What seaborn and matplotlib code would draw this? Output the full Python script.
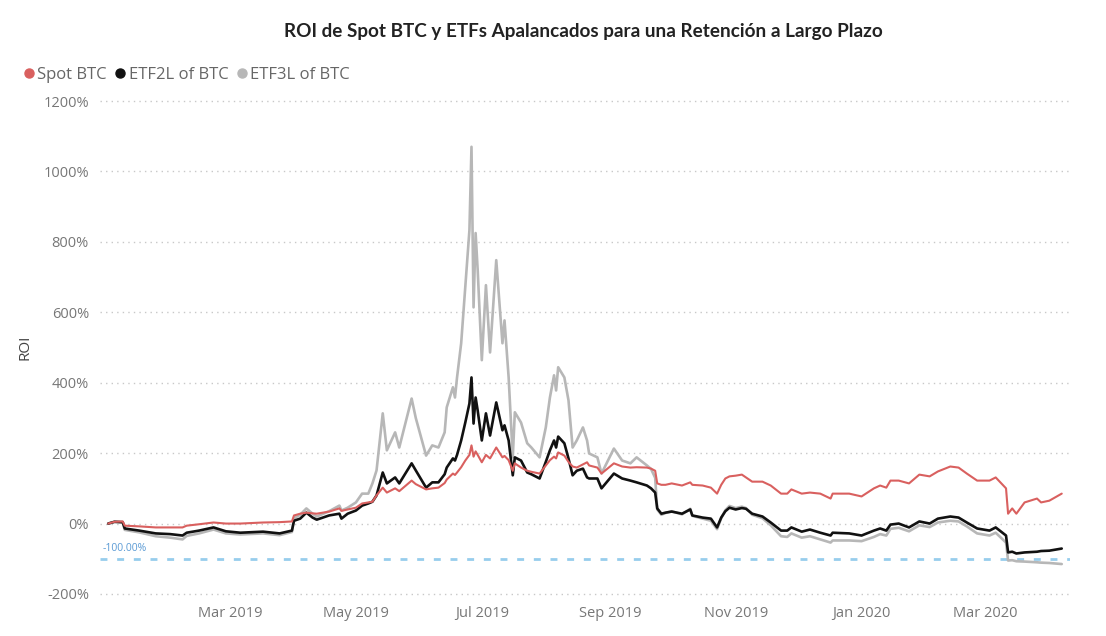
import matplotlib
matplotlib.use('agg')
import matplotlib.pyplot as plt
import matplotlib.dates as mdates
from matplotlib.lines import Line2D
from matplotlib.ticker import FuncFormatter
import pandas as pd
import seaborn as sns


dates = ["2019-01-01", "2019-01-04", "2019-01-08", "2019-01-09", "2019-01-16", "2019-01-24",
         "2019-01-31", "2019-02-06", "2019-02-08", "2019-02-14", "2019-02-21", "2019-02-27",
         "2019-03-06", "2019-03-17", "2019-03-25", "2019-03-31", "2019-04-01", "2019-04-04",
         "2019-04-07", "2019-04-10", "2019-04-12", "2019-04-18", "2019-04-23", "2019-04-24",
         "2019-04-27", "2019-05-01", "2019-05-04", "2019-05-07", "2019-05-09", "2019-05-11",
         "2019-05-14", "2019-05-16", "2019-05-20", "2019-05-22", "2019-05-28",
         "2019-05-30", "2019-06-04", "2019-06-07", "2019-06-10", "2019-06-13", "2019-06-14",
         "2019-06-17", "2019-06-18", "2019-06-19", "2019-06-21", "2019-06-23", "2019-06-25",
         "2019-06-26", "2019-06-27", "2019-06-28", "2019-06-29", "2019-07-01", "2019-07-03",
         "2019-07-05", "2019-07-08", "2019-07-11", "2019-07-12", "2019-07-14", "2019-07-16",
         "2019-07-17", "2019-07-20", "2019-07-23", "2019-07-25", "2019-07-29", "2019-08-01",
         "2019-08-03", "2019-08-05", "2019-08-06", "2019-08-07", "2019-08-10", "2019-08-12",
         "2019-08-14", "2019-08-16", "2019-08-19", "2019-08-21", "2019-08-22", "2019-08-26",
         "2019-08-28", "2019-09-03", "2019-09-07", "2019-09-11", "2019-09-14", "2019-09-19",
         "2019-09-21", "2019-09-23", "2019-09-24", "2019-09-26", "2019-09-28", "2019-10-01",
         "2019-10-06", "2019-10-10", "2019-10-11", "2019-10-16", "2019-10-20", "2019-10-23",
         "2019-10-25", "2019-10-27", "2019-10-29", "2019-11-01", "2019-11-04", "2019-11-06",
         "2019-11-09", "2019-11-14", "2019-11-18", "2019-11-23", "2019-11-26", "2019-11-28",
         "2019-12-03", "2019-12-07", "2019-12-12", "2019-12-17", "2019-12-18", "2019-12-26",
         "2020-01-01", "2020-01-07", "2020-01-10", "2020-01-13", "2020-01-15", "2020-01-19",
         "2020-01-24", "2020-01-29", "2020-02-03", "2020-02-07", "2020-02-13", "2020-02-17",
         "2020-02-21", "2020-02-26", "2020-03-03", "2020-03-06", "2020-03-11", "2020-03-12",
         "2020-03-14", "2020-03-16", "2020-03-20", "2020-03-26", "2020-03-28", "2020-04-01",
         "2020-04-07"]

spot_btc = [0, 5, 6, -6, -8, -11,
            -11, -11, -6, -2, 3, 0,
            0, 3, 4, 6, 23, 28,
            31, 29, 28, 34, 43, 36,
            40, 45, 57, 60, 62, 80,
            102, 88, 100, 92, 122,
            112, 97, 100, 102, 115, 125,
            142, 138, 145, 160, 179, 195,
            222, 190, 205, 195, 174, 195,
            185, 216, 188, 192, 180, 150,
            171, 159, 150, 147, 142, 165,
            180, 190, 185, 202, 193, 175,
            162, 159, 168, 174, 165, 159,
            142, 171, 162, 159, 160, 159,
            156, 150, 114, 110, 110, 114,
            108, 117, 110, 108, 102, 85,
            110, 128, 134, 136, 139, 131,
            119, 119, 108, 85, 85, 97,
            85, 88, 85, 71, 85, 85,
            77, 100, 108, 102, 122, 122,
            114, 139, 134, 148, 162, 159,
            142, 122, 122, 131, 100, 28,
            43, 28, 60, 71, 60, 65,
            85]

etf2l_btc = [0, 5, 4, -14, -20, -28,
             -30, -34, -26, -20, -11, -22,
             -26, -23, -28, -20, 8, 14,
             31, 17, 11, 23, 28, 14,
             28, 37, 51, 57, 62, 80,
             145, 114, 131, 114, 171,
             151, 102, 117, 117, 140, 159,
             185, 179, 195, 236, 287, 341,
             415, 284, 358, 321, 236, 313,
             250, 344, 265, 279, 236, 137,
             188, 179, 145, 140, 128, 175,
             208, 236, 216, 247, 228, 185,
             137, 150, 156, 131, 128, 128,
             100, 142, 128, 122, 117, 108,
             100, 88, 43, 28, 31, 34,
             28, 40, 23, 17, 14, -11,
             17, 35, 45, 40, 44, 42,
             28, 20, 3, -20, -20, -11,
             -23, -17, -26, -34, -26, -28,
             -34, -20, -14, -20, -3, 0,
             -11, 6, 0, 14, 20, 17,
             3, -14, -20, -11, -34, -82,
             -80, -85, -82, -80, -78, -77,
             -71]

etf3l_btc = [0, 5, 3, -18, -25, -36,
             -40, -45, -35, -28, -17, -28,
             -31, -28, -33, -24, 15, 25,
             43, 28, 20, 35, 51, 37,
             45, 60, 85, 85, 114, 151,
             313, 208, 259, 216, 355,
             300, 193, 222, 216, 259, 330,
             387, 358, 415, 512, 671, 833,
             1070, 614, 825, 720, 464, 677,
             486, 748, 512, 577, 415, 188,
             316, 287, 228, 216, 188, 273,
             358, 421, 378, 444, 415, 350,
             216, 236, 273, 236, 199, 188,
             142, 213, 179, 171, 188, 165,
             155, 130, 40, 25, 30, 35,
             26, 42, 22, 14, 8, -16,
             15, 38, 50, 44, 48, 44,
             25, 15, -5, -36, -38, -28,
             -40, -36, -45, -54, -48, -48,
             -50, -38, -30, -34, -15, -12,
             -22, -5, -10, 3, 8, 6,
             -8, -28, -34, -26, -54, -105,
             -104, -107, -108, -110, -111, -112,
             -115]

series_names = ["Spot BTC", "ETF2L of BTC", "ETF3L of BTC"]
colors = {"Spot BTC": "#D9605F", "ETF2L of BTC": "#111111", "ETF3L of BTC": "#B7B7B7"}
widths = {"Spot BTC": 1.5, "ETF2L of BTC": 1.9, "ETF3L of BTC": 1.9}
y_ticks = [-200, 0, 200, 400, 600, 800, 1000, 1200]
x_ticks = ["2019-03-01", "2019-05-01", "2019-07-01", "2019-09-01", "2019-11-01", "2020-01-01", "2020-03-01"]

df = pd.DataFrame({"date": pd.to_datetime(dates), "Spot BTC": spot_btc,
                   "ETF2L of BTC": etf2l_btc, "ETF3L of BTC": etf3l_btc})
long_df = df.melt(id_vars="date", var_name="serie", value_name="roi")

sns.set_theme(style="white")
plt.rcParams['font.family'] = ['Open Sans', 'DejaVu Sans']

fig = plt.figure(figsize=(11.06, 6.36), dpi=100)
ax = fig.add_axes([100 / 1106, 1 - 597.5 / 636, 970 / 1106, 500 / 636])

# gray first so the black and red sit on top
for name in reversed(series_names):
    sns.lineplot(data=long_df[long_df.serie == name], x="date", y="roi", color=colors[name],
                 lw=widths[name], ax=ax, legend=False)

ax.axhline(-100, color="#97CDEC", ls=(0, (2.5, 3.5)), lw=2, zorder=1)
ax.text(0.003, -72, "-100.00%", transform=ax.get_yaxis_transform(), color="#5B9BD5",
        fontsize=7.5, va="center", ha="left")

ax.set_ylim(-210, 1210)
ax.set_xlim(pd.Timestamp("2018-12-28"), pd.Timestamp("2020-04-11"))
ax.set_yticks(y_ticks)
ax.set_xticks(pd.to_datetime(x_ticks))
ax.yaxis.set_major_formatter(FuncFormatter(lambda v, p: "{:.0f}%".format(v)))
ax.xaxis.set_major_formatter(mdates.DateFormatter("%b %Y"))
ax.yaxis.grid(True, linestyle=(0, (1, 3)), color="#C8C8C8", lw=1)
ax.xaxis.grid(False)
for s in ax.spines.values():
    s.set_visible(False)
ax.tick_params(axis="both", length=0, labelcolor="#777777", labelsize=10.5)
ax.tick_params(axis="x", pad=6)
ax.tick_params(axis="y", pad=8)
ax.set_xlabel("")
ax.set_ylabel("ROI", color="#444444", fontsize=11)
ax.yaxis.set_label_coords(-0.07, 0.5)

handles = [Line2D([], [], marker="o", ls="", color=colors[n], markersize=6.5) for n in series_names]
fig.legend(handles, series_names, loc="center left", bbox_to_anchor=(14 / 1106, 1 - 75 / 636),
           ncol=3, frameon=False, handletextpad=0.0, columnspacing=0.3, handlelength=1.0,
           fontsize=12, labelcolor="#666666", borderaxespad=0)

fig.text(583 / 1106, 1 - 31 / 636, "ROI de Spot BTC y ETFs Apalancados para una Retención a Largo Plazo",
         ha="center", va="center", fontsize=13.6, fontweight="bold", color="#222222",
         family=["Lato", "DejaVu Sans"])

fig.savefig("out.png", dpi=100)
